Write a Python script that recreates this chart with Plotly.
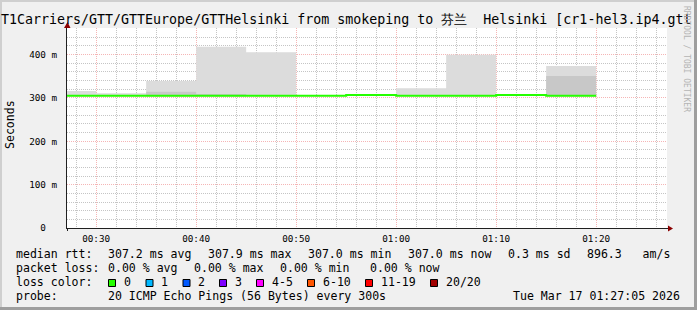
import plotly.graph_objects as go

# ---------------- data ----------------
day = "2026-03-17"
seg_start = ["00:25", "00:30", "00:35", "00:40", "00:45", "00:50",
             "00:55", "01:00", "01:05", "01:10", "01:15"]
seg_end = "01:20"
median_ms = [305, 305, 305, 305, 305, 305, 307, 305, 305, 307, 305]
smoke_min_ms = [304, 304, 304, 304, 304, 304, 306, 304, 304, 306, 304]
smoke_inner_ms = [304, 304, 314.6, 309, 304, 304, 306, 304, 304, 306, 350.8]
smoke_max_ms = [316, 311, 339, 418.4, 405.5, 305, 307, 322.4, 399.7, 307, 374]

ytick_vals = [0, 100, 200, 300, 400]
ytick_text = ["0\u00a0\u00a0", "100 m", "200 m", "300 m", "400 m"]

# visible part of the title (the rest runs past the image edge in the reference)
title_text = ("T1Carriers/GTT/GTTEurope/GTTHelsinki from smokeping to "
              "芬兰\u00a0 Helsinki [cr1-hel3.ip4.gtt")

stats_line1 = ["median rtt:", "307.2 ms avg", "307.9 ms max", "307.0 ms min",
               "307.0 ms now", "0.3 ms sd", "896.3   am/s"]
stats_line2 = ["packet loss:", "0.00 % avg", "0.00 % max", "0.00 % min", "0.00 % now"]
loss_labels = ["0", "1", "2", "3", "4-5", "6-10", "11-19", "20/20"]
loss_colors = ["#26ff00", "#00b8ff", "#0059ff", "#7e00ff", "#ff00ff",
               "#ff5500", "#ff0000", "#a10000"]
probe_text = "20 ICMP Echo Pings (56 Bytes) every 300s"
stamp_text = "Tue Mar 17 01:27:05 2026"
x_start = f"{day} 00:27:05"
x_end = f"{day} 01:27:05"

# ---------------- geometry ----------------
W, H = 697, 310
L, R, T, B = 67, 667, 28, 228          # plot area pixel box
MONO = "DejaVu Sans Mono"


def px(x):
    return (x - L) / (R - L)


def py(y):
    return (B - y) / (B - T)


xs = [f"{day} {t}:00" for t in seg_start] + [f"{day} {seg_end}:00"]


def ext(a):
    return list(a) + [a[-1]]


fig = go.Figure()
base = dict(mode="lines", line=dict(width=0, shape="hv"), hoverinfo="skip", showlegend=False)
fig.add_trace(go.Scatter(x=xs, y=ext(smoke_min_ms), **base))
fig.add_trace(go.Scatter(x=xs, y=ext(smoke_max_ms), fill="tonexty", fillcolor="#dcdcdc", **base))
fig.add_trace(go.Scatter(x=xs, y=ext(smoke_min_ms), **base))
fig.add_trace(go.Scatter(x=xs, y=ext(smoke_inner_ms), fill="tonexty", fillcolor="#c8c8c8", **base))
fig.add_trace(go.Scatter(x=xs, y=ext(median_ms), mode="lines",
                         line=dict(width=2, shape="hv", color="#26ff00"),
                         hoverinfo="skip", showlegend=False))

minor_grid = "#c5c5c5"
major_grid = "#f5b5b5"

fig.update_layout(
    width=W, height=H,
    margin=dict(l=L, r=W - R, t=T, b=H - B, pad=0),
    paper_bgcolor="#f0f0f0", plot_bgcolor="#ffffff",
    font=dict(family=MONO, color="#000000"),
    xaxis=dict(
        type="date", range=[x_start, x_end], fixedrange=True,
        tick0=f"{day} 00:30:00", dtick=600000, tickformat="%H:%M",
        tickfont=dict(family=MONO, size=9.3),
        ticks="", ticklabelstandoff=2,
        showgrid=True, gridcolor=major_grid, griddash="1px,1px", gridwidth=1,
        minor=dict(tick0=f"{day} 00:30:00", dtick=120000, showgrid=True,
                   gridcolor=minor_grid, griddash="1px,1px", gridwidth=1),
        showline=True, linecolor="#202020", linewidth=1, zeroline=False,
    ),
    yaxis=dict(
        range=[0, 461.5], fixedrange=True,
        tickvals=ytick_vals, ticktext=ytick_text,
        tickfont=dict(family=MONO, size=9.3),
        ticks="", ticklabelstandoff=7,
        showgrid=True, gridcolor=major_grid, griddash="1px,1px", gridwidth=1,
        minor=dict(tick0=0, dtick=20, showgrid=True,
                   gridcolor=minor_grid, griddash="1px,1px", gridwidth=1),
        showline=True, linecolor="#202020", linewidth=1, zeroline=False,
    ),
)

shapes = []
# frame shading
shapes.append(dict(type="rect", xref="paper", yref="paper", x0=px(0), x1=px(2), y0=py(0), y1=py(H),
                   fillcolor="#cfcfcf", line=dict(width=0), layer="above"))
shapes.append(dict(type="rect", xref="paper", yref="paper", x0=px(0), x1=px(W), y0=py(0), y1=py(2),
                   fillcolor="#cfcfcf", line=dict(width=0), layer="above"))
shapes.append(dict(type="rect", xref="paper", yref="paper", x0=px(W - 3), x1=px(W), y0=py(0), y1=py(H),
                   fillcolor="#9e9e9e", line=dict(width=0), layer="above"))
shapes.append(dict(type="rect", xref="paper", yref="paper", x0=px(0), x1=px(W), y0=py(H - 3), y1=py(H),
                   fillcolor="#9e9e9e", line=dict(width=0), layer="above"))
# axis extensions + arrows
shapes.append(dict(type="line", xref="paper", yref="paper", x0=px(R), x1=px(R + 3), y0=py(B + 0.5), y1=py(B + 0.5),
                   line=dict(color="#202020", width=1), layer="above"))
shapes.append(dict(type="path", xref="paper", yref="paper",
                   path=f"M {px(R + 1)} {py(B - 2.5)} L {px(R + 6)} {py(B + 0.5)} L {px(R + 1)} {py(B + 3.5)} Z",
                   fillcolor="#8b0000", line=dict(width=0), layer="above"))
shapes.append(dict(type="path", xref="paper", yref="paper",
                   path=f"M {px(L - 3)} {py(T)} L {px(L + 0.5)} {py(T - 6)} L {px(L + 3.5)} {py(T)} Z",
                   fillcolor="#8b0000", line=dict(width=0), layer="above"))
shapes.append(dict(type="line", xref="paper", yref="paper", x0=px(L + 0.5), x1=px(L + 0.5), y0=py(B), y1=py(B + 3),
                   line=dict(color="#202020", width=1), layer="above"))

annotations = []


def text(x, y, s, size=11.56, anchor="left", color="#000000", angle=0, yanchor="middle"):
    annotations.append(dict(xref="paper", yref="paper", x=px(x), y=py(y), text=s,
                            showarrow=False, xanchor=anchor, yanchor=yanchor,
                            borderpad=0, textangle=angle,
                            font=dict(family=MONO, size=size, color=color)))


# title
text(0.3, 19.5, title_text, size=13.3)
# y-axis unit label
text(10, 125, "Seconds", size=11.56, anchor="center", angle=-90)
# watermark
text(687, 59, "RRDTOOL / TOBI OETIKER", size=8, anchor="center", angle=90, color="#b4b4b4")

# stats lines
line1_x = [15.3, 106.6, 206.6, 306.6, 407.0, 507.0, 586.0]
for s, x in zip(stats_line1, line1_x):
    text(x, 254, s)
line2_x = [15.3, 106.6, 192.6, 278.6, 368.6]
for s, x in zip(stats_line2, line2_x):
    text(x, 268, s)
text(15.3, 282, "loss color:")
box_x = [108, 145.5, 182.5, 219, 256, 307, 365, 430]
for lab, col, bx in zip(loss_labels, loss_colors, box_x):
    shapes.append(dict(type="rect", xref="paper", yref="paper", x0=px(bx + 0.5), x1=px(bx + 7.5),
                       y0=py(286.5), y1=py(279.5), fillcolor=col,
                       line=dict(color="#000000", width=1), layer="above"))
    text(bx + 14.6, 282, lab)
text(15.3, 296, "probe:")
text(106.6, 296, probe_text)
text(681, 296, stamp_text, anchor="right")

fig.update_layout(shapes=shapes, annotations=annotations)
fig.write_html("out.html")
